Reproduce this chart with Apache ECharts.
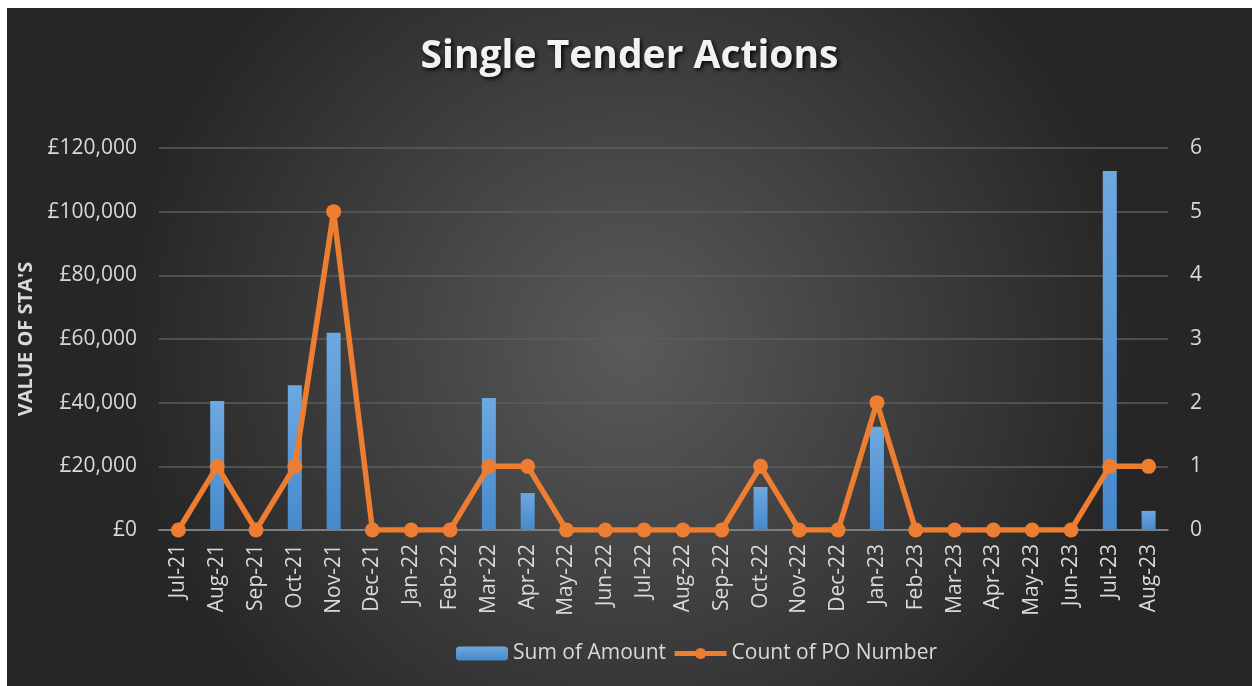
<!DOCTYPE html>
<html>
<head>
<meta charset="utf-8">
<script src="https://cdn.jsdelivr.net/npm/echarts@6/dist/echarts.min.js"></script>
<style>
  html, body { margin: 0; padding: 0; background: #fff; }
  #chart { position: absolute; left: 7px; top: 8px; width: 1245px; height: 678px; }
</style>
</head>
<body>
<div id="chart"></div>
<script>
var months = ['Jul-21','Aug-21','Sep-21','Oct-21','Nov-21','Dec-21','Jan-22','Feb-22','Mar-22','Apr-22',
  'May-22','Jun-22','Jul-22','Aug-22','Sep-22','Oct-22','Nov-22','Dec-22','Jan-23','Feb-23',
  'Mar-23','Apr-23','May-23','Jun-23','Jul-23','Aug-23'];
var sumOfAmount = [0, 40500, 0, 45500, 62000, 0, 0, 0, 41500, 11600,
  0, 0, 0, 0, 0, 13500, 0, 0, 32400, 0,
  0, 0, 0, 0, 112800, 6000];
var countOfPO = [0, 1, 0, 1, 5, 0, 0, 0, 1, 1,
  0, 0, 0, 0, 0, 1, 0, 0, 2, 0,
  0, 0, 0, 0, 1, 1];

var fontFam = '"Open Sans", "DejaVu Sans", sans-serif';
var labelColor = '#d9d9d9';

var myChart = echarts.init(document.getElementById('chart'));
myChart.setOption({
  backgroundColor: {
    type: 'radial', x: 0.5, y: 0.5, r: 0.75,
    colorStops: [
      { offset: 0, color: '#5a5a5a' },
      { offset: 1, color: '#262626' }
    ]
  },
  title: {
    text: 'Single Tender Actions',
    left: 'center',
    top: 24,
    textStyle: {
      color: '#f2f2f2',
      fontFamily: fontFam,
      fontWeight: 'bold',
      fontSize: 39,
      textShadowColor: 'rgba(0,0,0,0.9)',
      textShadowBlur: 4,
      textShadowOffsetX: 2,
      textShadowOffsetY: 2
    }
  },
  legend: {
    bottom: 17,
    left: 444,
    itemWidth: 52,
    itemHeight: 14,
    itemGap: 6,
    lineStyle: { width: 5 },
    textStyle: { color: labelColor, fontFamily: fontFam, fontSize: 21 },
    data: ['Sum of Amount', 'Count of PO Number']
  },
  grid: { left: 152, right: 84, top: 140, bottom: 156 },
  xAxis: {
    type: 'category',
    data: months,
    axisLine: { lineStyle: { color: '#8c8c8c', width: 1.5 } },
    axisTick: { show: false },
    axisLabel: {
      rotate: 90,
      interval: 0,
      margin: 14,
      color: labelColor,
      fontFamily: fontFam,
      fontSize: 21
    }
  },
  yAxis: [
    {
      type: 'value',
      min: 0, max: 120000, interval: 20000,
      name: "VALUE OF STA'S",
      nameLocation: 'middle',
      nameGap: 122,
      nameRotate: 90,
      nameTextStyle: { color: labelColor, fontFamily: fontFam, fontSize: 20, fontWeight: 'bold' },
      axisLine: { show: false },
      axisTick: { show: false },
      splitLine: { lineStyle: { color: '#5c5c5c', width: 1.5 } },
      axisLabel: {
        color: labelColor, fontFamily: fontFam, fontSize: 21, margin: 22,
        formatter: function (v) { return '£' + v.toLocaleString('en-GB'); }
      }
    },
    {
      type: 'value',
      min: 0, max: 6, interval: 1,
      axisLine: { show: false },
      axisTick: { show: false },
      splitLine: { show: false },
      axisLabel: { color: labelColor, fontFamily: fontFam, fontSize: 21, margin: 22 }
    }
  ],
  series: [
    {
      name: 'Sum of Amount',
      type: 'bar',
      barWidth: 14,
      data: sumOfAmount,
      itemStyle: {
        color: {
          type: 'linear', x: 0, y: 0, x2: 0, y2: 1,
          colorStops: [
            { offset: 0, color: '#6ea8df' },
            { offset: 1, color: '#4689cc' }
          ]
        }
      }
    },
    {
      name: 'Count of PO Number',
      type: 'line',
      yAxisIndex: 1,
      data: countOfPO,
      symbol: 'circle',
      symbolSize: 15,
      lineStyle: { color: '#ed7d31', width: 5.5 },
      itemStyle: { color: '#ed7d31' }
    }
  ]
});
</script>
</body>
</html>
